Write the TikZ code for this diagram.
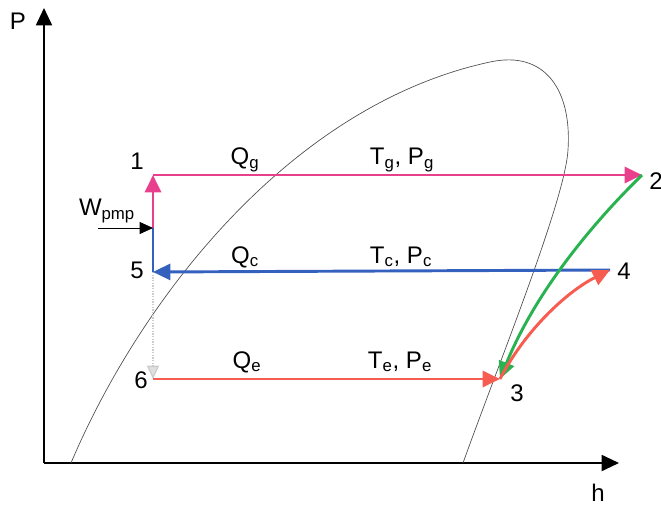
\documentclass[tikz,border=0pt]{standalone}
\usepackage{fontspec}
\setmainfont{Liberation Sans}
\usetikzlibrary{arrows.meta}
\definecolor{gencol}{RGB}{232,64,140}
\definecolor{condcol}{RGB}{52,96,190}
\definecolor{evapcol}{RGB}{246,92,80}
\definecolor{abscol}{RGB}{40,178,80}

\begin{document}
\begin{tikzpicture}[x=0.75pt, y=-0.75pt, >={Triangle[length=13pt,width=12pt]},
    lbl/.style={font=\fontsize{18}{20}\selectfont, inner sep=0pt},
    cyc/.style={line width=2.2pt, ->}]
    \useasboundingbox (0,0) rectangle (661,507);

    % Axes
    \coordinate (org) at (44,463);
    \coordinate (ytip) at (44,8);
    \coordinate (xtip) at (619,463);
    \draw[line width=1.4pt, ->] (org) -- (ytip);
    \draw[line width=1.4pt, ->] (org) -- (xtip);
    \node[lbl] (plbl) at (18,21) {P};
    \node[lbl] (hlbl) at (598,493) {h};

    % Saturation dome
    \draw[black!70, line width=0.5pt] (71,463) .. controls (140,300) and (290,105) .. (490,62)
        .. controls (545,50) and (572,90) .. (568,150)
        .. controls (565,200) and (500,360) .. (463,463);

    % State points
    \coordinate (s1) at (153,175);
    \coordinate (s2) at (642,175);
    \coordinate (s3) at (500,379);
    \coordinate (s4) at (610,270);
    \coordinate (s5) at (153,272);
    \coordinate (s6) at (153,379);
    \coordinate (wp) at (153,228);
    \coordinate (wtail) at (98,228);

    % Cycle
    \draw[black!20, densely dotted, line width=1pt,
        -{Triangle[length=10pt,width=9pt,fill=black!12]}] (s5) -- (s6);
    \draw[line width=2.2pt, condcol] (s5) -- (wp);
    \draw[cyc, gencol] (wp) -- (s1);
    \draw[cyc, gencol] (s1) -- (s2);
    \draw[cyc, condcol] (s4) -- (s5);
    \draw[cyc, evapcol] (s6) -- (s3);
    \draw[cyc, abscol] (s2) .. controls (600,216) and (538,286) .. (s3);
    \draw[cyc, evapcol] (s3) .. controls (524,332) and (566,292) .. (s4);
    \draw[line width=0.5pt, -{Triangle[length=10pt,width=9pt]}] (wtail) -- (wp);

    % Labels
    \node[lbl] (n1) at (137,161) {1};
    \node[lbl] (n2) at (656,181) {2};
    \node[lbl] (n3) at (517,393) {3};
    \node[lbl] (n4) at (624,271) {4};
    \node[lbl] (n5) at (137,270) {5};
    \node[lbl] (n6) at (141,380) {6};
    \node[lbl] (wlbl) at (107,211) {W\textsubscript{pmp}};
    \node[lbl] (qg) at (245,160) {Q\textsubscript{g}};
    \node[lbl] (tg) at (402,160) {T\textsubscript{g}, P\textsubscript{g}};
    \node[lbl] (qc) at (245,257) {Q\textsubscript{c}};
    \node[lbl] (tc) at (401,257) {T\textsubscript{c}, P\textsubscript{c}};
    \node[lbl] (qe) at (247,362) {Q\textsubscript{e}};
    \node[lbl] (te) at (400,362) {T\textsubscript{e}, P\textsubscript{e}};
  \end{tikzpicture}
\end{document}
